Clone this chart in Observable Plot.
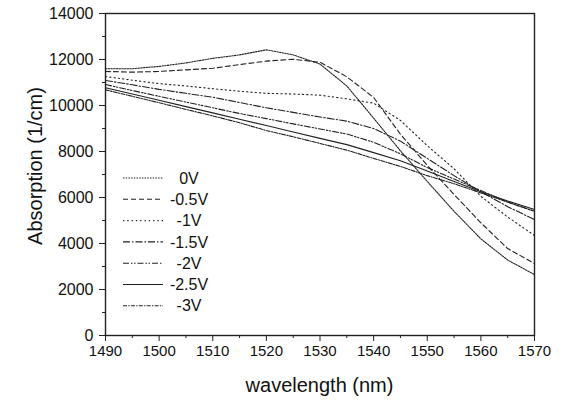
<!DOCTYPE html>
<html>
<head>
<meta charset="utf-8">
<script src="https://cdn.jsdelivr.net/npm/d3@7"></script>
<script src="https://cdn.jsdelivr.net/npm/@observablehq/plot@0.6"></script>
<style>
  html, body { margin: 0; padding: 0; background: #fff; }
  #chart { width: 573px; height: 401px; }
</style>
</head>
<body>
<div id="chart"></div>
<script>
// ---- data ----
const wavelengths = [1490,1495,1500,1505,1510,1515,1520,1525,1530,1535,1540,1545,1550,1555,1560,1565,1570];
const seriesNames = ["0V","-0.5V","-1V","-1.5V","-2V","-2.5V","-3V"];
const v0    = [11600,11600,11700,11850,12050,12200,12420,12200,11800,10850,9450,8030,6700,5400,4200,3280,2650];
const vm05  = [11480,11450,11480,11550,11620,11780,11930,12010,11880,11250,10350,8750,7400,6130,4900,3780,3130];
const vm1   = [11260,11100,10950,10850,10730,10620,10530,10500,10450,10290,10100,9350,8250,7250,6050,5150,4350];
const vm15  = [11090,10900,10700,10530,10360,10130,9900,9700,9500,9320,9000,8450,7700,6950,6250,5600,5040];
const vm2   = [10910,10650,10400,10150,9900,9650,9430,9200,8980,8760,8400,7900,7300,6800,6300,5800,5400];
const vm25  = [10770,10500,10230,9950,9680,9400,9130,8850,8570,8300,7950,7600,7150,6700,6250,5850,5480];
const vm3   = [10680,10400,10120,9830,9550,9250,8910,8640,8350,8060,7700,7350,6950,6600,6200,5800,5400];
const seriesValues = [v0, vm05, vm1, vm15, vm2, vm25, vm3];
const xMajorTicks = [1490,1500,1510,1520,1530,1540,1550,1560,1570];
const xMinorTicks = [1495,1505,1515,1525,1535,1545,1555,1565];
const yMajorTicks = [0,2000,4000,6000,8000,10000,12000,14000];
const yMinorTicks = [1000,3000,5000,7000,9000,11000,13000];

// ---- styles ----
const dashes = {
  "0V": "1.5,1.2",
  "-0.5V": "5,3",
  "-1V": "1.3,3",
  "-1.5V": "7,2,1.5,2",
  "-2V": "6,2,1.5,1.5,1.5,2",
  "-2.5V": null,
  "-3V": "4,1.3,1.3,1.3"
};

const rows = [];
seriesNames.forEach((name, i) => {
  wavelengths.forEach((w, j) => rows.push({series: name, x: w, y: seriesValues[i][j]}));
});

const font = "'Liberation Sans', Arial, sans-serif";
const ink = "#222";

const lineMarks = seriesNames.map(name => Plot.line(rows.filter(r => r.series === name), {
  x: "x", y: "y",
  stroke: ink, strokeWidth: 1.1,
  strokeDasharray: dashes[name] || undefined
}));

const chart = Plot.plot({
  width: 573,
  height: 401,
  marginLeft: 105,
  marginRight: 39,
  marginTop: 13,
  marginBottom: 66,
  style: {fontFamily: font, fontSize: "15px", color: "#111", background: "#fff", overflow: "visible"},
  x: {domain: [1490, 1570]},
  y: {domain: [0, 14000]},
  marks: [
    ...lineMarks,
    Plot.frame({stroke: "#222", strokeWidth: 1.4}),
    Plot.axisX({ticks: xMajorTicks, tickSize: 6, tickPadding: 4, tickFormat: d => String(d),
      fontSize: 15, stroke: "#222", label: null}),
    Plot.axisX({ticks: xMinorTicks, tickSize: 3, tickFormat: () => "", stroke: "#222", label: null}),
    Plot.axisY({ticks: yMajorTicks, tickSize: 6, tickPadding: 6, tickFormat: d => String(d),
      fontSize: 16, stroke: "#222", label: null}),
    Plot.axisY({ticks: yMinorTicks, tickSize: 3, tickFormat: () => "", stroke: "#222", label: null})
  ]
});

document.getElementById("chart").appendChild(chart);

// ---- axis titles and legend (pixel layout) ----
const svg = d3.select(chart);
svg.append("text")
  .attr("x", (105 + 534) / 2).attr("y", 392)
  .attr("text-anchor", "middle")
  .style("font-family", font).style("font-size", "20px").attr("fill", "#111")
  .text("wavelength (nm)");
svg.append("text")
  .attr("transform", "translate(42,166) rotate(-90)")
  .attr("text-anchor", "middle")
  .style("font-family", font).style("font-size", "20px").attr("fill", "#111")
  .text("Absorption (1/cm)");

const leg = svg.append("g");
seriesNames.forEach((name, i) => {
  const y = 178 + i * 21.3;
  leg.append("line")
    .attr("x1", 123).attr("x2", 163).attr("y1", y).attr("y2", y)
    .attr("stroke", ink).attr("stroke-width", 1.1)
    .attr("stroke-dasharray", dashes[name] || null);
  leg.append("text")
    .attr("x", 189).attr("y", y).attr("dy", "0.35em")
    .attr("text-anchor", "middle")
    .style("font-family", font).style("font-size", "16px").attr("fill", "#111")
    .text(name);
});
</script>
</body>
</html>
